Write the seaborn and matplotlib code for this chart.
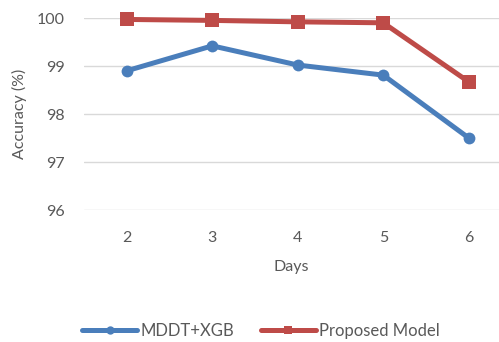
import matplotlib
matplotlib.use("Agg")
import matplotlib.pyplot as plt
import seaborn as sns
import pandas as pd
from matplotlib.lines import Line2D

days = [2, 3, 4, 5, 6]
mddt_xgb = [98.9, 99.42, 99.02, 98.81, 97.5]
proposed = [99.97, 99.95, 99.92, 99.9, 98.67]
series_names = ["MDDT+XGB", "Proposed Model"]
yticks = [96, 97, 98, 99, 100]

df = pd.DataFrame({
    "Days": days * 2,
    "Accuracy": mddt_xgb + proposed,
    "Model": [series_names[0]] * len(days) + [series_names[1]] * len(days),
})

sns.set_theme(style="white")
plt.rcParams["font.family"] = ["Lato", "DejaVu Sans"]
text_color = "#595959"
blue = "#4A7EBB"
red = "#BE4B48"
fs = 11.5

fig = plt.figure(figsize=(4.99, 3.42), dpi=100)
ax = fig.add_axes([84 / 499, 1 - 210 / 342, 415 / 499, 192 / 342])

sns.lineplot(data=df, x="Days", y="Accuracy", hue="Model", style="Model",
             markers={series_names[0]: "o", series_names[1]: "s"},
             dashes=False, palette=[blue, red], linewidth=3.6,
             markersize=9, markeredgewidth=0, ax=ax, legend=False)
for ln in ax.lines:
    ln.set_clip_on(False)
    if ln.get_marker() == "s":
        ln.set_markersize(9.5)
    else:
        ln.set_markersize(8.5)

ax.set_xlim(1.5, 1.5 + 415 / 85.5)
ax.set_ylim(96, 100)
ax.set_yticks(yticks)
ax.set_xticks(days)
ax.set_xticklabels([str(d) for d in days])
ax.grid(axis="y", color="#D9D9D9", linewidth=1)
ax.set_axisbelow(True)
for s in ax.spines.values():
    s.set_visible(False)
ax.tick_params(axis="both", length=0, labelsize=fs, colors=text_color)
ax.tick_params(axis="y", pad=14)
ax.tick_params(axis="x", pad=15)
ax.set_xlabel("Days", fontsize=fs, color=text_color, labelpad=11)
ax.set_ylabel("Accuracy (%)", fontsize=fs, color=text_color, labelpad=7)

handles = [
    Line2D([], [], color=blue, linewidth=3.6, marker="o", markersize=6, markeredgewidth=0),
    Line2D([], [], color=red, linewidth=3.6, marker="s", markersize=6, markeredgewidth=0),
]
fig.legend(handles, series_names, loc="lower center", bbox_to_anchor=(0.523, -0.035),
           ncol=2, frameon=False, fontsize=fs + 0.5, labelcolor=text_color,
           handlelength=3.3, handletextpad=0.2, columnspacing=1.6)

fig.savefig("out.png", dpi=100)
